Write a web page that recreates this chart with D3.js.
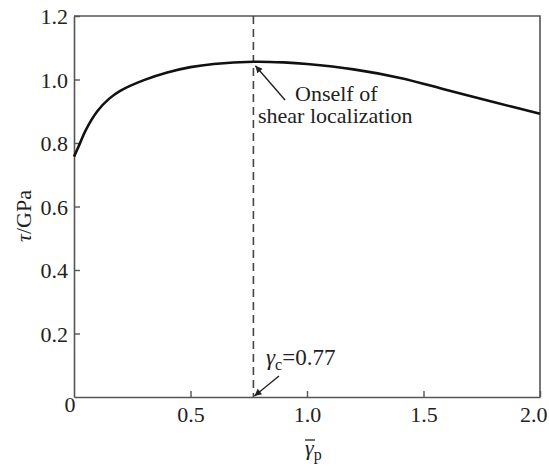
<!DOCTYPE html>
<html>
<head>
<meta charset="utf-8">
<script src="https://cdn.jsdelivr.net/npm/d3@7/dist/d3.min.js"></script>
<style>
  html, body { margin: 0; padding: 0; background: #fff; }
  svg { display: block; }
  text { font-family: "Liberation Serif", "Times New Roman", serif; fill: #222; }
</style>
</head>
<body>
<svg id="chart" width="549" height="467"></svg>
<script>
// Plastic shear strain (mean) vs shear stress
const gammaP = [0, 0.025, 0.05, 0.1, 0.15, 0.2, 0.3, 0.4, 0.5, 0.6, 0.77, 0.9, 1.0, 1.2, 1.4, 1.6, 1.8, 2.0];
const tauGPa = [0.757, 0.798, 0.84, 0.9, 0.939, 0.965, 0.998, 1.022, 1.039, 1.049, 1.056, 1.054, 1.049, 1.032, 1.005, 0.967, 0.929, 0.892];

const gammaCritical = 0.77;
const xTicks = [0.5, 1.0, 1.5, 2.0];
const yTicks = [0.2, 0.4, 0.6, 0.8, 1.0, 1.2];

const svg = d3.select("#chart");
const plotLeft = 74, plotRight = 540, plotTop = 16, plotBottom = 397;

const x = d3.scaleLinear().domain([0, 2.0]).range([plotLeft, plotRight]);
const y = d3.scaleLinear().domain([0, 1.2]).range([plotBottom, plotTop]);

const axisColor = "#555";
const fontSize = 22;
const serif = "Liberation Serif, Times New Roman, serif";

// arrowhead marker
svg.append("defs").append("marker")
  .attr("id", "arrow")
  .attr("viewBox", "0 0 10 10")
  .attr("refX", 10).attr("refY", 5)
  .attr("markerWidth", 9).attr("markerHeight", 7)
  .attr("markerUnits", "userSpaceOnUse")
  .attr("orient", "auto")
  .append("path").attr("d", "M0,0 L10,5 L0,10 z").attr("fill", "#222");

// frame (top and right borders)
svg.append("path")
  .attr("d", `M${plotLeft},${plotTop} H${plotRight} V${plotBottom}`)
  .attr("fill", "none").attr("stroke", axisColor).attr("stroke-width", 1.6);

// left axis, ticks pointing inward
const yAxis = svg.append("g").attr("transform", `translate(${plotLeft},0)`)
  .call(d3.axisLeft(y).tickValues(yTicks).tickSizeInner(-6).tickSizeOuter(0).tickPadding(8)
    .tickFormat(d3.format(".1f")));
yAxis.select(".domain").attr("stroke", axisColor).attr("stroke-width", 1.6);
yAxis.selectAll(".tick line").attr("stroke", axisColor).attr("stroke-width", 1.4);
yAxis.selectAll(".tick text")
  .attr("font-size", fontSize).attr("font-family", serif)
  .attr("fill", "#222").attr("x", -6).attr("dy", "0.36em");

// bottom axis, ticks pointing inward
const xAxis = svg.append("g").attr("transform", `translate(0,${plotBottom})`)
  .call(d3.axisBottom(x).tickValues(xTicks).tickSizeInner(-6).tickSizeOuter(0).tickPadding(8)
    .tickFormat(d3.format(".1f")));
xAxis.select(".domain").attr("stroke", axisColor).attr("stroke-width", 1.6);
xAxis.selectAll(".tick line").attr("stroke", axisColor).attr("stroke-width", 1.4);
xAxis.selectAll(".tick text")
  .attr("font-size", fontSize).attr("font-family", serif)
  .attr("fill", "#222").attr("y", 9).attr("dy", "0.71em");
// last label pulled inside the page edge
xAxis.selectAll(".tick text").filter(d => d === 2.0)
  .attr("text-anchor", "end").attr("x", 7);

// shared origin label
svg.append("text").attr("x", x(0) - 4).attr("y", y(0) + 15)
  .attr("text-anchor", "middle").attr("font-size", fontSize).text("0");

// critical strain dashed line
svg.append("line")
  .attr("x1", x(gammaCritical)).attr("x2", x(gammaCritical))
  .attr("y1", y(1.2)).attr("y2", y(0))
  .attr("stroke", "#444").attr("stroke-width", 1.6)
  .attr("stroke-dasharray", "8,5");

// stress curve
const line = d3.line()
  .x((d, i) => x(gammaP[i]))
  .y(d => y(d))
  .curve(d3.curveCatmullRom.alpha(0.5));
svg.append("path")
  .datum(tauGPa)
  .attr("d", line)
  .attr("fill", "none").attr("stroke", "#111").attr("stroke-width", 2.6);

// annotation: onset of shear localization
const peakTau = tauGPa[gammaP.indexOf(gammaCritical)];
svg.append("line")
  .attr("x1", 285).attr("y1", 100)
  .attr("x2", x(gammaCritical) + 2).attr("y2", y(peakTau) + 4)
  .attr("stroke", "#222").attr("stroke-width", 1.4)
  .attr("marker-end", "url(#arrow)");
svg.append("text").attr("x", 295).attr("y", 101)
  .attr("font-size", fontSize).text("Onself of");
svg.append("text").attr("x", 258).attr("y", 123)
  .attr("font-size", fontSize).text("shear localization");

// annotation: critical strain value
svg.append("line")
  .attr("x1", 279).attr("y1", 376)
  .attr("x2", x(gammaCritical) + 1).attr("y2", y(0) - 1)
  .attr("stroke", "#222").attr("stroke-width", 1.4)
  .attr("marker-end", "url(#arrow)");
const gc = svg.append("text").attr("x", 266).attr("y", 365).attr("font-size", 23);
gc.append("tspan").attr("font-style", "italic").text("γ");
gc.append("tspan").attr("font-size", 16).attr("dy", 5).text("c");
gc.append("tspan").attr("dy", -5).text("=" + gammaCritical.toFixed(2));

// x-axis title: mean plastic shear strain
const xt = svg.append("text").attr("x", 305).attr("y", 455).attr("font-size", fontSize);
xt.append("tspan").attr("font-style", "italic").text("γ");
xt.append("tspan").attr("font-size", 16).attr("dy", 5).text("p");
svg.append("line")
  .attr("x1", 305).attr("x2", 315).attr("y1", 440).attr("y2", 440)
  .attr("stroke", "#222").attr("stroke-width", 1.3);

// y-axis title
const yt = svg.append("text")
  .attr("transform", "translate(31,216) rotate(-90)")
  .attr("text-anchor", "middle").attr("font-size", fontSize);
yt.append("tspan").attr("font-style", "italic").text("τ");
yt.append("tspan").text("/GPa");
</script>
</body>
</html>
